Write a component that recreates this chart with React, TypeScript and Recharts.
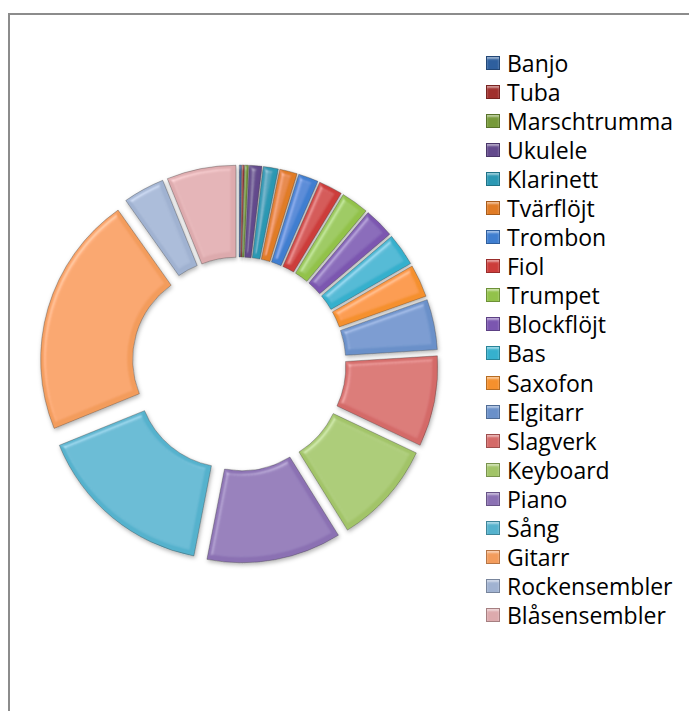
import React from "react"
import { PieChart, Pie, Cell, Legend, Sector } from "recharts"

const instruments = [
  "Banjo",
  "Tuba",
  "Marschtrumma",
  "Ukulele",
  "Klarinett",
  "Tvärflöjt",
  "Trombon",
  "Fiol",
  "Trumpet",
  "Blockflöjt",
  "Bas",
  "Saxofon",
  "Elgitarr",
  "Slagverk",
  "Keyboard",
  "Piano",
  "Sång",
  "Gitarr",
  "Rockensembler",
  "Blåsensembler",
]

const students = [2, 2, 3, 10, 12, 14, 16, 19, 22, 24, 26, 26, 40, 72, 82, 107, 142, 192, 33, 55]

const colors = [
  "#2e5f9e",
  "#a0302d",
  "#779a3a",
  "#634a8c",
  "#2b98b3",
  "#e07b25",
  "#3f7ed0",
  "#cc3c3a",
  "#92c24a",
  "#7b56b0",
  "#36b0cd",
  "#f5902d",
  "#6a90c9",
  "#d46a68",
  "#a2c468",
  "#8b71b3",
  "#55b2cd",
  "#f39c5c",
  "#a0b2d1",
  "#ddaaad",
]

const data = instruments.map((name, i) => ({ name, value: students[i] }))

const EXPLODE = 16
const RAD = Math.PI / 180

// recharts has no explode option, so each slice is redrawn pushed out along its mid angle
function ExplodedSlice(props: any) {
  const { cx, cy, midAngle, innerRadius, outerRadius, startAngle, endAngle, index } = props
  const dx = EXPLODE * Math.cos(-midAngle * RAD)
  const dy = EXPLODE * Math.sin(-midAngle * RAD)
  return (
    <Sector
      cx={cx + dx}
      cy={cy + dy}
      innerRadius={innerRadius}
      outerRadius={outerRadius}
      startAngle={startAngle}
      endAngle={endAngle}
      fill={colors[index]}
      stroke="rgba(60,60,60,0.45)"
      strokeWidth={0.8}
      filter="url(#bevel)"
    />
  )
}

function LegendList({ payload }: any) {
  // keep the data order, not the alphabetical one
  const items = [...(payload || [])].sort(
    (a: any, b: any) => instruments.indexOf(a.value) - instruments.indexOf(b.value)
  )
  return (
    <div>
      {items.map((item: any) => {
        const i = instruments.indexOf(item.value)
        return (
          <div key={item.value} style={{ display: "flex", alignItems: "center", height: 29.1 }}>
            <span
              style={{
                width: 14,
                height: 14,
                marginRight: 7,
                background: colors[i],
                border: "1px solid rgba(0,0,0,0.25)",
                boxSizing: "border-box",
                boxShadow: "inset 0 2px 2px rgba(255,255,255,0.5)",
              }}
            />
            <span style={{ fontFamily: "'Open Sans', sans-serif", fontSize: 23, color: "#000", whiteSpace: "nowrap" }}>
              {item.value}
            </span>
          </div>
        )
      })}
    </div>
  )
}

export default function App() {
  return (
    <div style={{ position: "relative", width: 689, height: 711, overflow: "hidden", background: "#fff" }}>
      <style>{"body{margin:0;overflow:hidden}"}</style>
      <svg width="0" height="0" style={{ position: "absolute" }}>
        <defs>
          <filter id="bevel" x="-20%" y="-20%" width="140%" height="140%">
            <feGaussianBlur in="SourceAlpha" stdDeviation="2.5" result="blur" />
            <feSpecularLighting
              in="blur"
              surfaceScale="4"
              specularConstant="0.7"
              specularExponent="18"
              lightingColor="#ffffff"
              result="spec"
            >
              <feDistantLight azimuth="225" elevation="45" />
            </feSpecularLighting>
            <feComposite in="spec" in2="SourceAlpha" operator="in" result="specIn" />
            <feComposite in="SourceGraphic" in2="specIn" operator="arithmetic" k1="0" k2="1" k3="0.35" k4="0" result="lit" />
            <feGaussianBlur in="SourceAlpha" stdDeviation="2" result="sblur" />
            <feOffset in="sblur" dx="1" dy="2" result="soff" />
            <feFlood floodColor="#000" floodOpacity="0.3" />
            <feComposite in2="soff" operator="in" result="shadow" />
            <feMerge>
              <feMergeNode in="shadow" />
              <feMergeNode in="lit" />
            </feMerge>
          </filter>
        </defs>
      </svg>
      <div
        style={{
          position: "absolute",
          left: 8,
          top: 13,
          width: 700,
          height: 720,
          borderTop: "2px solid #8c8c8c",
          borderLeft: "2px solid #8c8c8c",
          boxSizing: "border-box",
        }}
      />
      <div style={{ position: "absolute", left: 0, top: 0 }}>
        <PieChart width={689} height={711} margin={{ top: 0, right: 0, bottom: 0, left: 0 }}>
          <Pie
            data={data}
            dataKey="value"
            nameKey="name"
            cx={239}
            cy={364}
            innerRadius={91}
            outerRadius={183}
            startAngle={90}
            endAngle={-270}
            stroke="none"
            fillOpacity={0}
            label={ExplodedSlice}
            labelLine={false}
            isAnimationActive={false}
          >
            {data.map((d, i) => (
              <Cell key={d.name} fill={colors[i]} />
            ))}
          </Pie>
          <Legend
            layout="vertical"
            align="right"
            verticalAlign="top"
            itemSorter={null as any}
            content={LegendList}
            wrapperStyle={{ left: 486, top: 48, width: 200 }}
          />
        </PieChart>
      </div>
    </div>
  )
}
